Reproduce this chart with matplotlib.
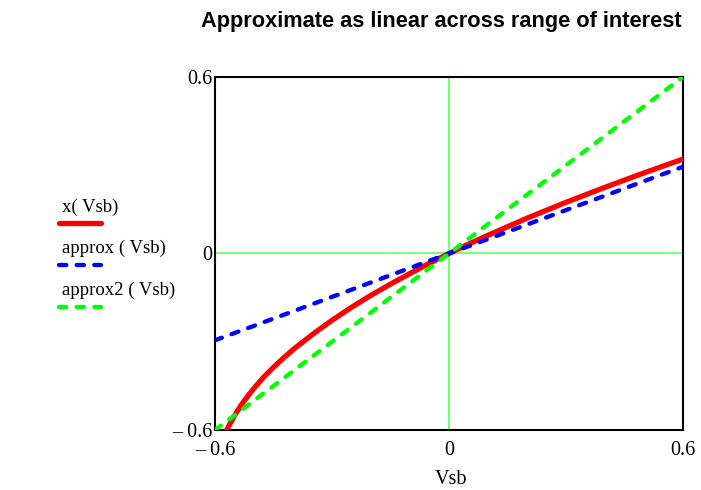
import matplotlib
matplotlib.use("Agg")
import matplotlib.pyplot as plt
from matplotlib.lines import Line2D

# Body-effect term and its two linear approximations
vsb = [-0.58, -0.575, -0.57, -0.565, -0.56, -0.55, -0.54, -0.53, -0.515, -0.50,
       -0.475, -0.45, -0.425, -0.40, -0.35, -0.30, -0.25, -0.20, -0.15, -0.10,
       -0.05, 0.00, 0.05, 0.10, 0.20, 0.30, 0.40, 0.50, 0.60]
x_vsb = [-0.633, -0.616, -0.601, -0.587, -0.575, -0.551, -0.530, -0.510, -0.483, -0.458,
         -0.420, -0.387, -0.356, -0.327, -0.275, -0.227, -0.183, -0.142, -0.104, -0.068,
         -0.033, 0.000, 0.032, 0.062, 0.120, 0.174, 0.225, 0.274, 0.321]
vsb_lin = [-0.6, 0.6]
approx = [-0.295, 0.295]
approx2 = [-0.6, 0.6]

xticks = [-0.6, 0, 0.6]
xticklabels = ["\u2013 0.6", "0", "0.6"]
yticks = [-0.6, 0, 0.6]
yticklabels = ["\u2013 0.6", "0", "0.6"]
legend_labels = ["x( Vsb)", "approx ( Vsb)", "approx2 ( Vsb)"]

RED = "#ff0000"
BLUE = "#0000ff"
GREEN = "#00ff00"
ZERO = "#5cff5c"
SERIF = "Liberation Serif"

fig = plt.figure(figsize=(7.01, 4.90), dpi=100)
W, H = 701, 490
ax = fig.add_axes([215 / W, 1 - 430 / H, (683 - 215) / W, (430 - 77) / H])

ax.axhline(0, color=ZERO, lw=1.2, zorder=1)
ax.axvline(0, color=ZERO, lw=1.2, zorder=1)

dash = (0, (1.7, 2.4))
ax.plot(vsb, x_vsb, color=RED, lw=3.8, solid_capstyle="round",
        solid_joinstyle="round", zorder=3)
ax.plot(vsb_lin, approx, color=BLUE, lw=3.1, linestyle=dash,
        dash_capstyle="round", zorder=4)
ax.plot(vsb_lin, approx2, color=GREEN, lw=3.1, linestyle=dash,
        dash_capstyle="round", zorder=5)

ax.set_xlim(-0.6, 0.6)
ax.set_ylim(-0.6, 0.6)
ax.set_xticks(xticks)
ax.set_xticklabels(xticklabels, fontfamily=SERIF, fontsize=14.5)
ax.set_yticks(yticks)
ax.set_yticklabels(yticklabels, fontfamily=SERIF, fontsize=14.5)
ax.tick_params(axis="both", length=0)
ax.tick_params(axis="x", pad=8)
ax.tick_params(axis="y", pad=2)
for s in ax.spines.values():
    s.set_linewidth(1.5)
    s.set_color("black")

fig.text(451 / W, 1 - 484 / H, "Vsb", family=SERIF, fontsize=14.5,
         ha="center", va="baseline")

fig.text(441 / W, 1 - 27 / H, "Approximate as linear across range of interest",
         family="Liberation Sans", fontweight="bold", fontsize=15.7,
         ha="center", va="baseline")

# Legend: label above a short sample of each line
styles = [dict(color=RED, lw=3.8, solid_capstyle="round"),
          dict(color=BLUE, lw=3.1, linestyle=dash, dash_capstyle="round"),
          dict(color=GREEN, lw=3.1, linestyle=dash, dash_capstyle="round")]
text_base = [212, 253, 295]
line_y = [223, 265, 307]
for lab, st, tb, ly in zip(legend_labels, styles, text_base, line_y):
    fig.text(62 / W, 1 - tb / H, lab, family=SERIF, fontsize=13.5,
             ha="left", va="baseline")
    fig.add_artist(Line2D([59 / W, 101 / W], [1 - ly / H, 1 - ly / H],
                          transform=fig.transFigure, **st))

fig.savefig("out.png", dpi=100)
